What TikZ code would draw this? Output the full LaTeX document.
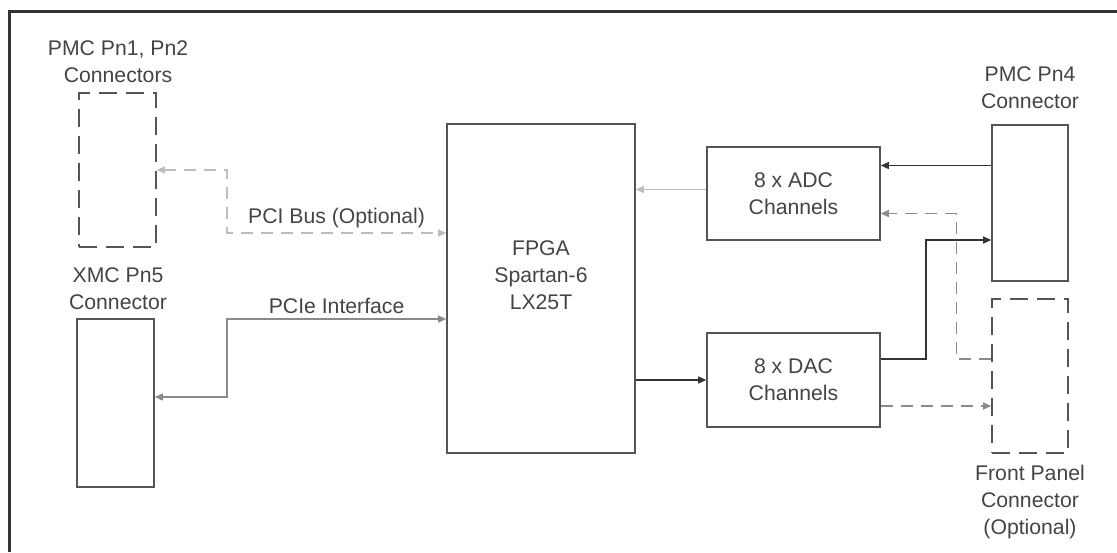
\documentclass[tikz,border=0pt]{standalone}
\usepackage{fontspec}
\setmainfont{Liberation Sans}
\usetikzlibrary{arrows.meta}

\definecolor{boxgray}{HTML}{555555}
\definecolor{textgray}{HTML}{444444}
\definecolor{darkline}{HTML}{333333}
\definecolor{midline}{HTML}{8A8A8A}
\definecolor{paleline}{HTML}{BDBDBD}

\tikzset{
  block/.style={draw=boxgray, line width=0.8pt, inner sep=0pt},
  optblock/.style={block, dash pattern=on 9pt off 4.5pt},
  caption/.style={text=textgray, align=center, font=\fontsize{10.6}{13.5}\selectfont},
  link/.style={line width=0.7pt, draw=darkline, -{Triangle[length=4pt,width=3.5pt]}},
  twoway/.style={link, {Triangle[length=4pt,width=3.5pt]}-{Triangle[length=4pt,width=3.5pt]}},
  optlink/.style={dash pattern=on 6pt off 4pt}
}

\begin{document}
\begin{tikzpicture}[x=0.5pt, y=-0.5pt]
    \useasboundingbox (0,0) rectangle (1117,552);

    % board outline
    \draw[
      line width=1.5pt,
      color=darkline
    ] (9,552) -- (9,11) -- (1117,11);

    % left side connectors
    \node[optblock, minimum width=38.5pt, minimum height=77pt] (pmcA) at (117.5,170) {};
    \node[caption] (pmcAtext) at (118,61.5) {PMC Pn1, Pn2\\Connectors};

    \node[block, minimum width=38.5pt, minimum height=84pt] (xmc) at (115.5,403) {};
    \node[caption] (xmctext) at (118,288.5) {XMC Pn5\\Connector};

    % fpga
    \node[block, minimum width=94pt, minimum height=164.5pt] (fpga) at (541,288.5) {};
    \node[caption] (fpgatext) at (541,275) {FPGA\\Spartan-6\\LX25T};

    % converters
    \node[block, caption, minimum width=86.5pt, minimum height=46.5pt] (adc) at (793.5,193.5) {8 x ADC\\Channels};
    \node[block, caption, minimum width=86.5pt, minimum height=47pt] (dac) at (793.5,380) {8 x DAC\\Channels};

    % right side connectors
    \node[block, minimum width=38pt, minimum height=78pt] (pn4) at (1030,203) {};
    \node[caption] (pn4text) at (1030,88) {PMC Pn4\\Connector};

    \node[optblock, minimum width=38pt, minimum height=77pt] (front) at (1030,376) {};
    \node[caption] (fronttext) at (1030,502) {Front Panel\\Connector\\(Optional)};

    % host buses
    \coordinate (pcibend) at (227,233);
    \draw[
      twoway,
      optlink,
      draw=paleline
    ] (pmcA.east) -| (pcibend)
      -- node[caption, above=-1pt] {PCI Bus (Optional)} (pcibend -| fpga.west);

    \coordinate (pciebend) at (227,319);
    \draw[
      twoway,
      draw=midline
    ] ([yshift=3pt]xmc.east) -| (pciebend)
      -- node[caption, above=-1pt] {PCIe Interface} (pciebend -| fpga.west);

    % data paths
    \draw[link, draw=paleline] ([yshift=2pt]adc.west) -- ([yshift=2pt]adc.west -| fpga.east);
    \draw[link] (dac.west -| fpga.east) -- (dac.west);

    \draw[link] ([yshift=14pt]adc.east -| pn4.west) -- ([yshift=14pt]adc.east);
    \draw[link, optlink, draw=midline] ([yshift=8.5pt]front.west) -- ++(-17.5pt,0) |- ([yshift=-10pt]adc.east);

    \draw[link] ([yshift=10.5pt]dac.east) -- ++(22.5pt,0) |- ([yshift=-18.5pt]pn4.west);
    \draw[link, optlink, draw=midline] ([yshift=-13pt]dac.east) -- ([yshift=-13pt]dac.east -| front.west);
\end{tikzpicture}
\end{document}
